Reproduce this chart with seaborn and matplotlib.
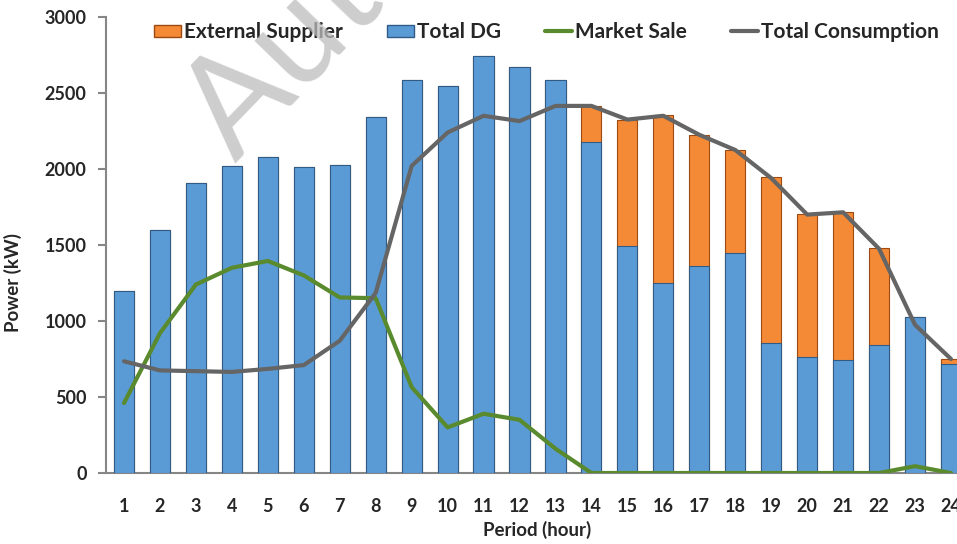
import numpy as np
import pandas as pd
import matplotlib.pyplot as plt
import seaborn as sns
from matplotlib.patches import Patch
from matplotlib.lines import Line2D

sns.set_style("white")
plt.rcParams['font.family'] = ['Lato', 'DejaVu Sans']

# Data
periods = list(range(1, 25))
total_dg = [1200, 1600, 1910, 2020, 2080, 2015, 2025, 2345, 2585, 2545, 2745, 2670,
            2585, 2180, 1495, 1250, 1360, 1445, 855, 765, 745, 840, 1025, 720]
external_supplier = [0, 0, 0, 0, 0, 0, 0, 0, 0, 0, 0, 0,
                     0, 235, 830, 1105, 865, 680, 1090, 940, 975, 640, 0, 30]
market_sale = [460, 920, 1240, 1350, 1395, 1300, 1155, 1150, 565, 300, 390, 350,
               160, 0, 0, 0, 0, 0, 0, 0, 0, 0, 45, 0]
total_consumption = [735, 675, 670, 665, 685, 710, 870, 1185, 2020, 2240, 2350, 2315,
                     2415, 2415, 2325, 2350, 2225, 2125, 1940, 1700, 1715, 1475, 975, 750]

df = pd.DataFrame({
    'period': periods,
    'dg': total_dg,
    'ext': external_supplier,
    'sale': market_sale,
    'cons': total_consumption,
})
df['stack'] = df['dg'] + df['ext']

blue = '#5b9bd5'
orange = '#f58a36'
green = '#5a8a2e'
grey = '#656565'

fig = plt.figure(figsize=(9.57, 5.44), dpi=100)
ax = fig.add_axes([0.1108, 0.1305, 0.9017, 0.8383])

# stacked bars: full stack in orange, DG in blue on top of it
sns.barplot(data=df, x='period', y='stack', color=orange, saturation=1, width=0.56,
            edgecolor='#9c4a12', linewidth=0.8, ax=ax, zorder=2)
sns.barplot(data=df, x='period', y='dg', color=blue, saturation=1, width=0.56,
            edgecolor='#2f5b86', linewidth=0.8, ax=ax, zorder=3)

xpos = np.arange(len(periods))
sns.lineplot(x=xpos, y=df['sale'], color=green, linewidth=3, ax=ax, zorder=4)
sns.lineplot(x=xpos, y=df['cons'], color=grey, linewidth=3, ax=ax, zorder=5)

ax.set_ylim(0, 3000)
ax.set_yticks(range(0, 3001, 500))
ax.set_xlim(-0.5, 23.5)
ax.set_xlabel('Period (hour)', fontsize=13.5, fontweight='bold', labelpad=4)
ax.set_ylabel('Power (kW)', fontsize=13.5, fontweight='bold')
ax.yaxis.set_label_coords(-0.097, 0.417)

for lbl in ax.get_xticklabels() + ax.get_yticklabels():
    lbl.set_fontweight('bold')
    lbl.set_fontsize(13)
ax.tick_params(axis='x', length=0, pad=18)
ax.tick_params(axis='y', length=6, width=1.5, color='#868686', direction='out', pad=8, left=True)

sns.despine(ax=ax, top=True, right=True)
for side in ['left', 'bottom']:
    ax.spines[side].set_color('#868686')
    ax.spines[side].set_linewidth(1.5)

handles = [
    Patch(facecolor=orange, edgecolor='#9c4a12', label='External Supplier'),
    Patch(facecolor=blue, edgecolor='#2f5b86', label='Total DG'),
    Line2D([0], [0], color=green, linewidth=3, label='Market Sale'),
    Line2D([0], [0], color=grey, linewidth=3, label='Total Consumption'),
]
leg = fig.legend(handles=handles, loc='center', bbox_to_anchor=(0.571, 0.941), ncol=4,
                 frameon=False, prop={'weight': 'bold', 'size': 15},
                 handlelength=1.3, handleheight=0.5, handletextpad=0.15, columnspacing=2.1)

# watermark
fig.text(0.245, 0.70, 'Author', fontsize=100, color='#bdbdbd', alpha=0.75,
         rotation=46, rotation_mode='anchor', ha='left', va='baseline', zorder=10)

fig.savefig('out.png', dpi=100)
